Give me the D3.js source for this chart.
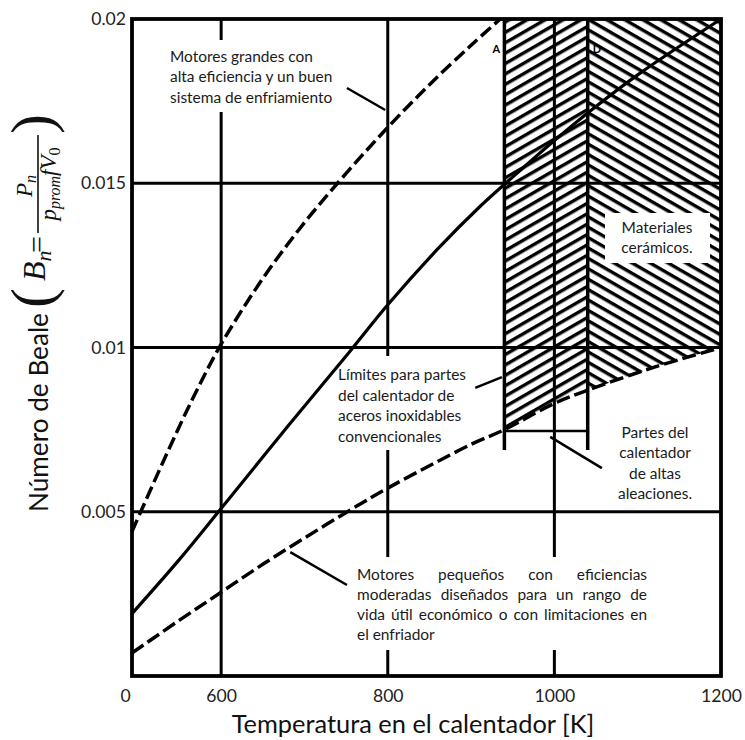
<!DOCTYPE html>
<html><head><meta charset="utf-8">
<script src="https://cdn.jsdelivr.net/npm/d3@7"></script>
<style>body{margin:0;background:#fff} svg{display:block}</style>
</head><body>
<svg id="c" width="745" height="740"></svg>
<script>
// ---------- data ----------
const xTicks = [493, 600, 800, 1000, 1200];
const xTickLabels = ["0", "600", "800", "1000", "1200"];
const yTicks = [0.005, 0.01, 0.015, 0.02];
const yTickLabels = ["0.005", "0.01", "0.015", "0.02"];
const xGrid = [600, 800, 1000];
const yGrid = [0.005, 0.01, 0.015];
// large engines, high efficiency, good cooling (upper dashed)
const tempLarge  = [493, 530, 565, 600, 650, 700, 750, 800, 850, 900, 935];
const bealeLarge = [0.0044, 0.0065, 0.0084, 0.0101, 0.0121, 0.0138, 0.0153, 0.0167, 0.0180, 0.0192, 0.0200];
// middle solid curve
const tempMid  = [493, 550, 600, 680, 752, 800, 860, 911, 955, 1000, 1043, 1100, 1200];
const bealeMid = [0.0019, 0.00355, 0.0051, 0.0076, 0.0098, 0.0113, 0.0130, 0.0143, 0.0153, 0.0163, 0.0172, 0.0183, 0.0200];
// small engines, moderate efficiency (lower dashed)
const tempSmall  = [493, 550, 600, 650, 700, 758, 800, 850, 900, 940, 1000, 1040, 1120, 1200];
const bealeSmall = [0.0007, 0.0017, 0.00255, 0.0034, 0.0042, 0.0051, 0.00572, 0.0064, 0.00705, 0.0075, 0.0083, 0.0087, 0.0094, 0.0100];
const limitA = 940, limitD = 1040;      // stainless / high alloy limits
const limitBottom = 0.00688, bracketB = 0.00746;

// ---------- setup ----------
const svg = d3.select("#c");
const x = d3.scaleLinear().domain([493, 1200]).range([132, 721]);
const y = d3.scaleLinear().domain([0, 0.02]).range([676, 19]);
const SANS = "Lato, 'Open Sans', sans-serif";
const SERIF = "'Liberation Serif', 'DejaVu Serif', serif";

function fitSize(txt, family, target, style) {
  const t = svg.append("text").attr("font-family", family).attr("font-size", 100)
    .attr("font-style", style || "normal").text(txt);
  const w = t.node().getComputedTextLength();
  t.remove();
  return 100 * target / w;
}
const annSize = fitSize("Motores grandes con", SANS, 143);
const tickSize = fitSize("0.015", SANS, 45);

const defs = svg.append("defs");
function hatch(id, angle) {
  const p = defs.append("pattern").attr("id", id).attr("patternUnits", "userSpaceOnUse")
    .attr("width", 20).attr("height", 9).attr("patternTransform", `rotate(${angle})`);
  p.append("rect").attr("width", 20).attr("height", 3.4).attr("fill", "#000");
}
hatch("hL", -30);
hatch("hR", 30);

// ---------- grid ----------
const grid = svg.append("g").attr("stroke", "#000").attr("stroke-width", 3);
grid.selectAll(".vg").data(xGrid).join("line")
  .attr("x1", d => x(d)).attr("x2", d => x(d)).attr("y1", y(0)).attr("y2", y(0.02));
grid.selectAll(".hg").data(yGrid).join("line")
  .attr("y1", d => y(d)).attr("y2", d => y(d)).attr("x1", x(493)).attr("x2", x(1200));

// ---------- hatched regions ----------
const lowerPts = tempSmall.map((t, i) => [t, bealeSmall[i]]).filter(p => p[0] >= limitA);
const poly = d3.line().x(d => x(d[0])).y(d => y(d[1]));
const leftPoly = [[limitA, 0.02], [limitD, 0.02]]
  .concat(lowerPts.filter(p => p[0] <= limitD).reverse());
const rightPoly = [[limitD, 0.02], [1200, 0.02]]
  .concat(lowerPts.filter(p => p[0] >= limitD).reverse());
svg.append("path").attr("d", poly(leftPoly) + "Z").attr("fill", "url(#hL)");
svg.append("path").attr("d", poly(rightPoly) + "Z").attr("fill", "url(#hR)");

// ---------- white label boxes ----------
const boxes = [
  [165, 40, 180, 72],
  [333, 356, 168, 94],
  [605, 213, 105, 50],
  [350, 557, 300, 93]
];
svg.selectAll(".box").data(boxes).join("rect")
  .attr("x", d => d[0]).attr("y", d => d[1]).attr("width", d => d[2]).attr("height", d => d[3])
  .attr("fill", "#fff");

// ---------- limit lines A and D ----------
const lim = svg.append("g").attr("stroke", "#000").attr("stroke-width", 3.5);
lim.selectAll(".lim").data([limitA, limitD]).join("line")
  .attr("x1", d => x(d)).attr("x2", d => x(d)).attr("y1", y(0.02)).attr("y2", y(limitBottom));
lim.append("line").attr("x1", x(limitA)).attr("x2", x(limitD))
  .attr("y1", y(bracketB)).attr("y2", y(bracketB)).attr("stroke-width", 2.5);

// ---------- curves ----------
const line = d3.line().x(d => x(d[0])).y(d => y(d[1])).curve(d3.curveCatmullRom.alpha(0.5));
const zip = (a, b) => a.map((v, i) => [v, b[i]]);
svg.append("path").attr("d", line(zip(tempLarge, bealeLarge))).attr("fill", "none")
  .attr("stroke", "#000").attr("stroke-width", 3.5).attr("stroke-dasharray", "13,5");
svg.append("path").attr("d", line(zip(tempMid, bealeMid))).attr("fill", "none")
  .attr("stroke", "#000").attr("stroke-width", 3.2);
svg.append("path").attr("d", line(zip(tempSmall, bealeSmall))).attr("fill", "none")
  .attr("stroke", "#000").attr("stroke-width", 3.5).attr("stroke-dasharray", "14,5");

// ---------- leaders ----------
const leaders = [
  [[751, 0.0179], [797, 0.01723]],
  [[905, 0.00877], [937, 0.0091]],
  [[683, 0.00377], [751, 0.00277]],
  [[995, 0.00728], [1057, 0.00633]]
];
svg.selectAll(".lead").data(leaders).join("line")
  .attr("x1", d => x(d[0][0])).attr("y1", d => y(d[0][1]))
  .attr("x2", d => x(d[1][0])).attr("y2", d => y(d[1][1]))
  .attr("stroke", "#000").attr("stroke-width", 2.5);

// ---------- frame ----------
svg.append("rect").attr("x", x(493)).attr("y", y(0.02))
  .attr("width", x(1200) - x(493)).attr("height", y(0) - y(0.02))
  .attr("fill", "none").attr("stroke", "#000").attr("stroke-width", 3.8);

// ---------- axes ----------
const xAxis = d3.axisBottom(x).tickValues(xTicks).tickSize(0).tickPadding(14)
  .tickFormat((d, i) => xTickLabels[i]);
const gx = svg.append("g").attr("transform", `translate(0,${y(0)})`).call(xAxis);
gx.select(".domain").remove();
gx.selectAll("text").attr("font-family", SANS).attr("font-size", tickSize).attr("fill", "#222")
  .attr("dx", (d, i) => i === 0 ? -7 : 0);

const yAxis = d3.axisLeft(y).tickValues(yTicks).tickSize(0).tickPadding(6)
  .tickFormat((d, i) => yTickLabels[i]);
const gy = svg.append("g").attr("transform", `translate(${x(493)},0)`).call(yAxis);
gy.select(".domain").remove();
gy.selectAll("text").attr("font-family", SANS).attr("font-size", tickSize).attr("fill", "#222");

// ---------- titles ----------
const xtSize = fitSize("Temperatura en el calentador [K]", SANS, 363);
svg.append("text").attr("x", 413).attr("y", 733).attr("text-anchor", "middle")
  .attr("font-family", SANS).attr("font-size", xtSize).attr("fill", "#111")
  .text("Temperatura en el calentador [K]");

const yt = svg.append("g").attr("transform", "rotate(-90)");
const ytSize = fitSize("Número de Beale", SANS, 199);
yt.append("text").attr("x", -512).attr("y", 48).attr("font-family", SANS)
  .attr("font-size", ytSize).attr("fill", "#111").text("Número de Beale");
yt.append("text").attr("x", -308).attr("y", 52).attr("font-family", SERIF)
  .attr("font-size", 60).attr("fill", "#111").text("(");
const bT = yt.append("text").attr("x", -281).attr("y", 45).attr("font-family", SERIF)
  .attr("font-style", "italic").attr("font-size", 32).attr("fill", "#111");
bT.append("tspan").text("B");
bT.append("tspan").attr("font-size", 22).attr("dy", 6).text("n");
yt.append("text").attr("x", -253).attr("y", 47).attr("font-family", SERIF)
  .attr("font-size", 30).attr("fill", "#111").text("=");
svg.append("line").attr("x1", 38).attr("x2", 38).attr("y1", 135).attr("y2", 233)
  .attr("stroke", "#111").attr("stroke-width", 1.6);
const num = yt.append("text").attr("x", -186).attr("y", 32).attr("text-anchor", "middle")
  .attr("font-family", SERIF).attr("font-style", "italic").attr("font-size", 23).attr("fill", "#111");
num.append("tspan").text("P");
num.append("tspan").attr("font-size", 16).attr("dy", 4).text("n");
const den = yt.append("text").attr("x", -184).attr("y", 56).attr("text-anchor", "middle")
  .attr("font-family", SERIF).attr("font-style", "italic").attr("font-size", 23).attr("fill", "#111");
den.append("tspan").text("p");
den.append("tspan").attr("font-size", 16).attr("dy", 4).text("prom");
den.append("tspan").attr("dy", -4).text("fV");
den.append("tspan").attr("font-size", 16).attr("dy", 4).attr("font-style", "normal").text("0");
yt.append("text").attr("x", -134).attr("y", 52).attr("font-family", SERIF)
  .attr("font-size", 60).attr("fill", "#111").text(")");

// ---------- annotation texts ----------
function block(lines, x0, y0, lh, anchor) {
  const t = svg.append("text").attr("font-family", SANS).attr("font-size", annSize).attr("fill", "#1a1a1a")
    .attr("text-anchor", anchor || "start");
  lines.forEach((l, i) => t.append("tspan").attr("x", x0).attr("y", y0 + i * lh).text(l));
}
block(["Motores grandes con", "alta eficiencia y un buen", "sistema de enfriamiento"], 170, 62, 20.3);
block(["Límites para partes", "del calentador de", "aceros inoxidables", "convencionales"], 338, 380, 20.7);
block(["Materiales", "cerámicos."], 657, 233, 20, "middle");
block(["Partes del", "calentador", "de altas", "aleaciones."], 655, 438, 20.3, "middle");

// justified paragraph
const para = ["Motores pequeños con eficiencias",
  "moderadas diseñados para un rango de",
  "vida útil económico o con limitaciones en",
  "el enfriador"];
const px0 = 357, px1 = 647, py0 = 580, plh = 20;
para.forEach((l, li) => {
  const words = l.split(" ");
  const widths = words.map(w => {
    const t = svg.append("text").attr("font-family", SANS).attr("font-size", annSize).text(w);
    const wd = t.node().getComputedTextLength(); t.remove(); return wd;
  });
  const total = d3.sum(widths);
  const last = li === para.length - 1;
  const gap = last ? annSize * 0.25 : (px1 - px0 - total) / (words.length - 1);
  let cx = px0;
  words.forEach((w, i) => {
    svg.append("text").attr("x", cx).attr("y", py0 + li * plh).attr("font-family", SANS)
      .attr("font-size", annSize).attr("fill", "#1a1a1a").text(w);
    cx += widths[i] + gap;
  });
});

// A / D marks
svg.append("text").attr("x", x(limitA) - 12).attr("y", 53).attr("font-family", SANS)
  .attr("font-weight", "bold").attr("font-size", 11).text("A");
svg.append("text").attr("x", x(limitD) + 5).attr("y", 53).attr("font-family", SANS)
  .attr("font-weight", "bold").attr("font-size", 11).text("D");
</script>
</body></html>
